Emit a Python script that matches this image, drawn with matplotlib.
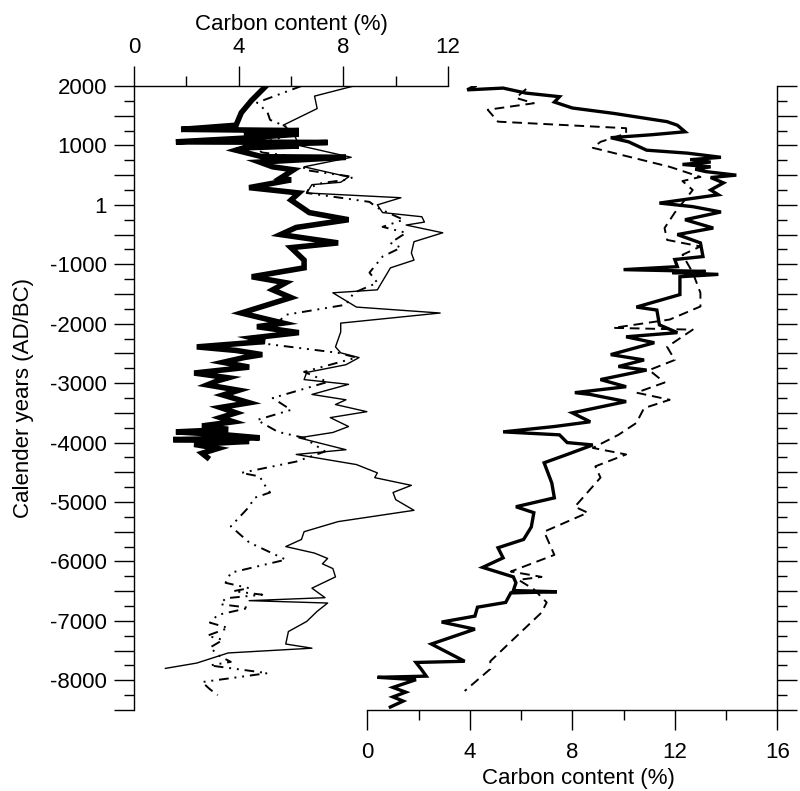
import matplotlib
matplotlib.use('Agg')
import matplotlib.pyplot as plt
from matplotlib.ticker import MultipleLocator, FuncFormatter, NullFormatter

plt.rcParams['font.family'] = ['Liberation Sans', 'DejaVu Sans']

# ---------------- data ----------------
# Left panel: thin solid line
thin_years = [2000, 1830, 1620, 1340, 1210, 1000, 800, 640, 470, 380, 340, 200, 120, 0, -130, -200,
              -290, -340, -470, -620, -810, -930, -1060, -1430, -1480, -1720, -1820, -1990, -2140,
              -2390, -2490, -2570, -2690, -2820, -2940, -3020, -3190, -3280, -3360, -3480, -3580,
              -3730, -3830, -3920, -4120, -4200, -4370, -4510, -4590, -4720, -4840, -4960, -5140,
              -5330, -5500, -5630, -5750, -5860, -5950, -6040, -6120, -6260, -6450, -6610, -6660,
              -6700, -6840, -7010, -7180, -7390, -7460, -7540, -7710, -7800]
thin_c = [8.4, 6.9, 7.0, 5.7, 6.1, 6.3, 8.3, 6.5, 8.2, 7.9, 6.8, 6.6, 10.2, 9.3, 9.5, 11.0,
          11.1, 10.4, 11.8, 10.7, 10.6, 10.7, 9.8, 9.3, 7.6, 8.5, 11.7, 7.9, 7.9,
          7.7, 7.9, 8.6, 8.1, 6.6, 6.5, 8.2, 6.8, 8.1, 7.7, 8.9, 7.5,
          8.2, 7.6, 6.3, 8.1, 6.2, 8.5, 9.3, 9.2, 10.6, 9.9, 10.0, 10.7,
          7.8, 6.5, 6.4, 5.8, 6.9, 7.4, 7.2, 7.6, 7.7, 6.8, 7.3, 4.4,
          7.4, 7.0, 6.6, 5.9, 5.8, 6.8, 3.6, 2.4, 1.2]

# Left panel: thick solid line
thick_years = [1980, 1760, 1550, 1340, 1270, 1250, 1220, 1190, 1120, 1060, 1050, 1010, 990, 960,
               920, 810, 800, 720, 640, 590, 450, 420, 290, 200, 80, -130, -250, -380, -500, -640,
               -720, -930, -1060, -1210, -1310, -1430, -1560, -1820, -1990, -2050, -2150, -2240,
               -2300, -2390, -2450, -2520, -2570, -2650, -2730, -2830, -2910, -2960, -3030, -3120,
               -3200, -3330, -3410, -3500, -3580, -3650, -3720, -3780, -3820, -3870, -3920, -3950,
               -3980, -4030, -4100, -4180, -4250]
thick_c = [5.0, 4.5, 4.1, 3.9, 1.8, 6.3, 4.2, 6.3, 4.1, 1.6, 7.4, 4.2, 6.3, 4.2,
           3.9, 4.9, 8.1, 4.8, 5.3, 6.1, 5.6, 6.0, 4.4, 6.3, 6.0, 6.7, 8.2, 6.2, 5.6, 7.8,
           6.0, 6.5, 6.5, 4.5, 5.8, 5.3, 6.0, 4.1, 5.7, 4.7, 6.3, 4.5,
           5.0, 2.4, 3.9, 4.9, 4.2, 3.4, 4.4, 2.3, 3.6, 3.2, 2.8, 4.0,
           3.4, 4.4, 3.3, 3.9, 3.3, 3.8, 2.6, 3.6, 1.6, 3.5, 4.8, 1.5,
           4.4, 2.3, 3.2, 2.6, 2.8]

# Left panel: dash-dot-dot line
dd_years = [2000, 1720, 1560, 1430, 1300, 1200, 1000, 880, 800, 590, 550, 470, 420, 370, 290,
            200, 50, -50, -250, -370, -470, -640, -720, -870, -1140, -1310, -1480, -1680, -1850,
            -2320, -2490, -2570, -2810, -2980, -3250, -3450, -3620, -3820, -3920, -4150, -4320,
            -4510, -4570, -4790, -4840, -4930, -5080, -5410, -5680, -5970, -6190, -6360, -6450,
            -6500, -6560, -6620, -6720, -6780, -6900, -7030, -7120, -7250, -7320, -7450, -7600,
            -7690, -7750, -7880, -8030, -8150, -8250]
dd_c = [6.4, 4.7, 5.1, 5.2, 5.9, 6.2, 4.5, 4.9, 6.5, 6.5, 7.1, 8.4, 8.1, 7.2, 6.7,
        6.6, 9.0, 9.3, 10.3, 9.5, 10.4, 9.8, 10.2, 9.5, 9.0, 9.3, 8.4, 8.1, 5.8,
        4.7, 7.8, 8.5, 6.5, 7.4, 5.3, 6.0, 4.7, 5.5, 6.5, 7.3, 6.2,
        4.1, 4.8, 5.1, 5.2, 4.6, 4.4, 3.7, 4.4, 5.8, 3.7, 3.5, 4.4,
        3.8, 4.9, 3.5, 3.3, 4.4, 3.2, 2.9, 3.6, 2.8, 3.4, 2.9, 3.3,
        3.7, 2.9, 5.1, 2.6, 2.9, 3.2]

# Right panel: thick solid line
rt_years = [2000, 1935, 1965, 1880, 1820, 1730, 1630, 1540, 1400, 1340, 1230, 1180, 1130, 1060,
            920, 870, 800, 760, 720, 680, 640, 600, 560, 500, 460, 370, 250, 170, 30, -30, -120,
            -250, -390, -500, -640, -870, -920, -1040, -1090, -1120, -1140, -1170, -1210, -1380,
            -1510, -1720, -1770, -2020, -2150, -2220, -2320, -2520, -2610, -2720, -2780, -2940,
            -3060, -3160, -3190, -3310, -3500, -3650, -3730, -3820, -3870, -4000, -4040, -4200,
            -4340, -4680, -4930, -5080, -5180, -5420, -5630, -5770, -5940, -6100, -6260, -6360,
            -6490, -6510, -6530, -6690, -6770, -6920, -7020, -7140, -7390, -7680, -7700, -7810,
            -7930, -7950, -7990, -8120, -8200, -8280, -8350, -8450]
rt_c = [4.2, 3.9, 5.3, 6.2, 7.5, 7.3, 8.0, 9.6, 11.7, 12.1, 12.4, 11.1, 9.5, 10.2,
        10.9, 12.5, 13.8, 12.6, 13.4, 12.3, 13.4, 12.8, 13.2, 14.4, 13.4, 13.9, 13.4, 13.7, 11.4, 12.7, 13.8,
        12.4, 13.5, 12.1, 13.0, 13.1, 12.0, 12.1, 10.0, 13.2, 11.9, 13.7, 12.2, 12.2,
        12.2, 10.5, 11.3, 11.4, 12.1, 10.1, 11.2, 9.5, 10.8, 9.8, 10.9, 9.1,
        10.1, 8.1, 8.7, 10.1, 8.0, 8.7, 7.3, 5.3, 7.5, 7.8, 8.8, 7.8,
        6.9, 7.2, 7.3, 5.8, 6.5, 6.4, 6.1, 5.1, 5.3, 4.5, 5.7, 5.8,
        5.7, 7.4, 5.6, 5.4, 4.3, 4.2, 2.9, 4.2, 2.5, 3.8, 1.9, 2.1,
        2.3, 0.4, 1.9, 1.0, 1.5, 1.0, 1.4, 0.9]

# Right panel: dashed line
rd_years = [1950, 1800, 1710, 1600, 1400, 1290, 1200, 1060, 960, 640, 470, 400, 250, -130, -390,
            -590, -700, -840, -1140, -1480, -1710, -1930, -2070, -2100, -2390, -2610, -2780,
            -2990, -3160, -3280, -3420, -3670, -3870, -4090, -4200, -4400, -4590, -5080, -5180,
            -5500, -5890, -6170, -6260, -6310, -6470, -6690, -6860, -7310, -7680, -7810, -8180]
rd_c = [6.2, 5.8, 6.5, 4.7, 5.1, 10.1, 10.1, 9.1, 8.8, 11.8, 13.0, 12.3, 12.7, 12.0, 11.6,
        11.7, 13.0, 12.3, 12.7, 13.0, 13.0, 11.8, 9.6, 12.7, 11.7, 12.0, 11.0,
        11.6, 10.5, 11.8, 10.8, 10.5, 9.8, 8.8, 10.1, 8.9, 9.1, 8.1, 8.6,
        6.9, 7.3, 5.6, 6.8, 5.9, 6.5, 7.0, 6.8, 5.7, 4.8, 4.8, 3.8]

year_label_pos = [2000, 1000, 0, -1000, -2000, -3000, -4000, -5000, -6000, -7000, -8000]
year_label_txt = ['2000', '1000', '1', '-1000', '-2000', '-3000', '-4000', '-5000',
                  '-6000', '-7000', '-8000']
left_xticks = [0, 4, 8, 12]
right_xticks = [0, 4, 8, 12, 16]

# ---------------- figure ----------------
W, H = 800, 791
fig = plt.figure(figsize=(W / 100, H / 100), dpi=100)


def rect(x0, y0, x1, y1):
    return [x0 / W, 1 - y1 / H, (x1 - x0) / W, (y1 - y0) / H]


axL = fig.add_axes(rect(134, 86, 448, 710))
axR = fig.add_axes(rect(367.3, 86, 777.3, 710))
for ax in (axL, axR):
    ax.patch.set_visible(False)
    ax.set_ylim(-8500, 2000)

FS = 16
TW = 1.0
LONG = 14.4
SHORT = 7.2

# Left axes
axL.set_xlim(0, 12)
axL.spines['right'].set_visible(False)
axL.spines['bottom'].set_visible(False)
for s in ('left', 'top'):
    axL.spines[s].set_linewidth(1.0)
axL.xaxis.tick_top()
axL.xaxis.set_label_position('top')
axL.set_xticks(left_xticks)
axL.xaxis.set_minor_locator(MultipleLocator(2))
axL.tick_params(axis='x', which='major', direction='out', length=LONG, width=TW,
                labelsize=FS, pad=6, top=True, bottom=False)
axL.tick_params(axis='x', which='minor', direction='out', length=SHORT, width=TW,
                top=True, bottom=False)
axL.set_xlabel('Carbon content (%)', fontsize=FS, labelpad=5)

lab_map = dict(zip(year_label_pos, year_label_txt))
axL.yaxis.set_major_locator(MultipleLocator(500))
axL.yaxis.set_minor_locator(MultipleLocator(250))
axL.yaxis.set_major_formatter(FuncFormatter(lambda v, p: lab_map.get(int(round(v)), '')))
axL.tick_params(axis='y', which='major', direction='out', length=LONG, width=TW,
                labelsize=FS, pad=5)
axL.tick_params(axis='y', which='minor', direction='out', length=SHORT, width=TW)
axL.set_ylabel('Calender years (AD/BC)', fontsize=FS)
axL.yaxis.set_label_coords(-0.32, 0.5)

axL.plot(thin_c, thin_years, color='black', lw=1.0)
axL.plot(dd_c, dd_years, color='black', lw=1.4, dashes=[5, 3, 1, 3, 1, 3])
axL.plot(thick_c, thick_years, color='black', lw=4.0, solid_joinstyle='miter')

# Right axes
axR.set_xlim(0, 16)
axR.spines['left'].set_visible(False)
axR.spines['top'].set_visible(False)
for s in ('right', 'bottom'):
    axR.spines[s].set_linewidth(1.0)
axR.set_xticks(right_xticks)
axR.xaxis.set_minor_locator(MultipleLocator(2))
axR.tick_params(axis='x', which='major', direction='out', length=LONG, width=TW,
                labelsize=FS, pad=9)
axR.tick_params(axis='x', which='minor', direction='out', length=SHORT, width=TW)
axR.set_xlabel('Carbon content (%)', fontsize=FS)
axR.xaxis.set_label_coords(0.514, -0.093)
axR.xaxis.label.set_va('top')
axR.yaxis.tick_right()
axR.yaxis.set_major_locator(MultipleLocator(500))
axR.yaxis.set_minor_locator(MultipleLocator(250))
axR.yaxis.set_major_formatter(NullFormatter())
axR.tick_params(axis='y', which='major', direction='out', length=LONG, width=TW,
                left=False, right=True)
axR.tick_params(axis='y', which='minor', direction='out', length=SHORT, width=TW,
                left=False, right=True)

axR.plot(rd_c, rd_years, color='black', lw=1.4, dashes=[5, 3])
axR.plot(rt_c, rt_years, color='black', lw=2.4, solid_joinstyle='miter')

fig.savefig('out.png', dpi=100)
